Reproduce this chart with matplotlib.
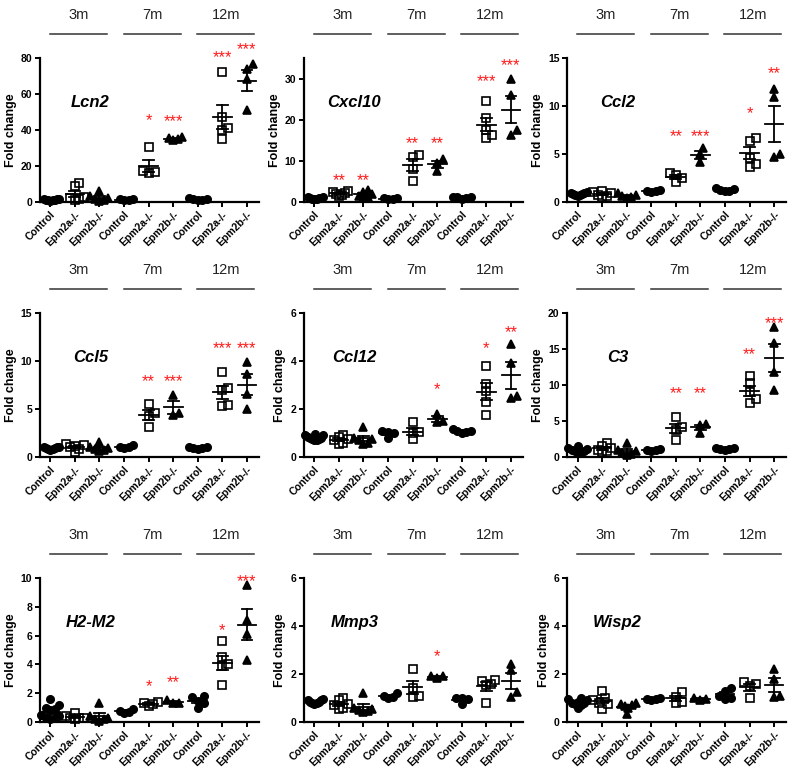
import numpy as np
import matplotlib
matplotlib.use("Agg")
import matplotlib.pyplot as plt

plt.rcParams['font.family'] = ['Liberation Sans', 'DejaVu Sans']

# DATA ########################################################################

genotypes = ["Control", "Epm2a-/-", "Epm2b-/-"]
ages = ["3m", "7m", "12m"]
tick_labels = genotypes * 3

# each gene: 9 groups (3m C, 3m a, 3m b, 7m C, 7m a, 7m b, 12m C, 12m a, 12m b)
lcn2 = [[1.2, 1.5, 0.8, 1.0, 1.8, 1.3, 0.9, 1.6],
        [10.5, 9.0, 2.5, 1.5, 1.0, 3.0],
        [6.0, 3.5, 1.0, 0.5, 1.5, 2.0],
        [1.2, 1.5, 1.0, 1.8],
        [30.5, 16.5, 16.0, 17.0],
        [35.5, 34.5, 36.0, 35.0],
        [1.2, 2.5, 1.0, 1.8, 1.5],
        [72.5, 41.0, 40.0, 35.0, 47.5],
        [76.5, 74.0, 68.5, 51.0]]
cxcl10 = [[0.8, 1.0, 1.2, 0.9, 0.7, 1.1, 0.8, 1.0],
          [2.0, 2.5, 1.8, 2.2, 2.6, 1.5],
          [3.0, 2.0, 1.2, 1.0, 1.5, 2.5],
          [0.8, 1.0, 0.7, 0.9],
          [11.5, 10.9, 8.0, 5.2],
          [10.4, 9.5, 7.5],
          [1.0, 1.3, 0.8, 1.1, 1.2],
          [24.5, 20.5, 17.5, 16.2, 15.5],
          [30.0, 26.0, 17.5, 16.3]]
ccl2 = [[0.7, 0.9, 0.8, 1.0, 0.6, 0.8, 0.9, 0.7],
        [1.2, 0.6, 0.9, 0.7, 1.0, 0.5],
        [0.9, 0.5, 0.6, 0.4, 0.7],
        [1.1, 1.3, 1.0, 1.2],
        [3.0, 2.8, 2.5, 2.1],
        [5.6, 5.0, 4.2],
        [1.3, 1.5, 1.1, 1.2, 1.4],
        [6.7, 6.4, 4.6, 4.0, 3.7],
        [11.8, 10.9, 5.0, 4.7]]
ccl5 = [[0.8, 1.0, 0.9, 0.7, 1.0, 0.9, 0.8, 1.0],
        [1.4, 1.2, 0.5, 0.8, 1.0, 1.3],
        [1.6, 0.8, 0.6, 0.9, 0.7, 1.0],
        [1.1, 1.3, 0.9, 1.0],
        [5.5, 4.6, 4.3, 3.1],
        [6.5, 4.6, 4.4],
        [0.9, 1.0, 0.8, 0.9, 1.0],
        [8.9, 7.2, 7.0, 5.4, 5.3],
        [9.9, 8.7, 6.6, 5.0]]
ccl12 = [[0.95, 0.9, 0.8, 0.75, 0.7, 0.85, 0.8, 0.7, 0.9, 0.75],
         [0.9, 0.85, 0.6, 0.7, 0.75, 0.55],
         [1.25, 0.8, 0.6, 0.55, 0.7, 0.75],
         [1.1, 1.0, 0.8, 1.05],
         [1.45, 1.05, 0.75, 1.0],
         [1.8, 1.5, 1.45],
         [1.1, 1.15, 1.0, 1.05, 1.1],
         [3.8, 3.05, 2.75, 2.3, 1.75],
         [4.7, 3.9, 2.55, 2.45]]
c3 = [[1.5, 1.2, 0.8, 1.0, 0.7, 0.9, 1.1, 0.6],
      [1.9, 1.6, 1.0, 0.8, 1.2, 0.7],
      [1.9, 1.0, 0.4, 0.3, 0.6, 0.8],
      [1.0, 1.1, 0.9, 1.0],
      [5.6, 4.2, 3.8, 2.4],
      [4.6, 4.4, 3.4],
      [1.1, 1.2, 1.0, 1.1, 1.2],
      [11.2, 10.3, 9.0, 8.0, 7.5],
      [18.0, 15.8, 11.8, 9.3]]
h2m2 = [[1.6, 1.2, 1.0, 0.8, 0.4, 0.3, 0.3, 0.9, 0.5, 0.2],
        [0.65, 0.3, 0.2, 0.3, 0.4, 0.25],
        [1.3, 0.4, 0.2, 0.1, 0.3, 0.2],
        [0.9, 0.7, 0.6, 0.75],
        [1.4, 1.3, 1.1, 1.25],
        [1.5, 1.35, 1.3],
        [1.8, 1.75, 1.45, 1.0, 1.35],
        [5.6, 4.5, 4.05, 3.9, 2.55],
        [9.5, 7.1, 6.1, 4.3]]
mmp3 = [[0.95, 0.9, 0.85, 0.8, 0.75, 0.8, 0.85, 0.9],
        [1.0, 0.9, 0.55, 0.7, 0.6, 0.75],
        [1.2, 0.6, 0.4, 0.5, 0.45, 0.55],
        [1.05, 1.2, 1.0, 1.1],
        [2.2, 1.4, 1.1, 1.05],
        [1.9, 1.85, 1.9],
        [1.0, 1.0, 0.95, 0.75],
        [1.75, 1.7, 1.6, 1.55, 0.8],
        [2.4, 2.15, 1.25, 1.05]]
wisp2 = [[1.0, 0.95, 0.9, 0.8, 0.75, 0.7, 0.6, 0.8, 0.85],
         [1.3, 1.0, 0.9, 0.75, 0.55, 0.8],
         [0.8, 0.7, 0.65, 0.6, 0.35, 0.75],
         [0.95, 1.0, 0.9, 0.95],
         [1.25, 1.05, 0.85, 0.8],
         [1.0, 0.95, 0.9],
         [1.4, 1.3, 1.1, 0.95, 1.0],
         [1.65, 1.6, 1.5, 1.0],
         [2.2, 1.8, 1.1, 1.05]]

gene_names = ["Lcn2", "Cxcl10", "Ccl2", "Ccl5", "Ccl12", "C3", "H2-M2", "Mmp3", "Wisp2"]
gene_data = [lcn2, cxcl10, ccl2, ccl5, ccl12, c3, h2m2, mmp3, wisp2]
y_max = [80, 35, 15, 15, 6, 20, 10, 6, 6]
y_step = [20, 10, 5, 5, 2, 5, 2, 2, 2]

# significance: group index -> (stars, level in fold change)
significance = [
    {4: ("*", 48), 5: ("***", 47), 7: ("***", 83), 8: ("***", 87)},
    {1: ("**", 6.2), 2: ("**", 6.2), 4: ("**", 15.2), 5: ("**", 15.2), 7: ("***", 30.4), 8: ("***", 34.3)},
    {4: ("**", 7.3), 5: ("***", 7.3), 7: ("*", 9.65), 8: ("**", 13.8)},
    {4: ("**", 8.3), 5: ("***", 8.3), 7: ("***", 11.8), 8: ("***", 11.8)},
    {5: ("*", 3.0), 7: ("*", 4.7), 8: ("**", 5.37)},
    {4: ("**", 9.5), 5: ("**", 9.5), 7: ("**", 14.9), 8: ("***", 19.1)},
    {4: ("*", 2.8), 5: ("**", 3.04), 7: ("*", 6.66), 8: ("***", 10.07)},
    {5: ("*", 2.9)},
    {},
]

# STYLE #######################################################################

markers = ["o", "s", "^"]
faces = ["black", "none", "black"]

col_left = [0.05, 0.38, 0.709]
row_bottom = [0.741, 0.414, 0.0744]
ax_w, ax_h = 0.274, 0.1846


def swarm_offsets(values, ytop, d=6.0, x_px=24.5, h_px=144.0, max_px=9.0):
    """simple beeswarm: spread points sideways so they do not stack"""
    ys = np.asarray(values, dtype=float) * h_px / ytop
    offs = np.zeros(len(ys))
    placed = []
    for i in np.argsort(ys):
        for k in range(60):
            off = ((k + 1) // 2) * (d * 0.5) * (1 if k % 2 else -1)
            if all((off - px) ** 2 + (ys[i] - py) ** 2 >= d * d for px, py in placed):
                break
        placed.append((off, ys[i]))
        offs[i] = off
    widest = np.abs(offs).max()
    if widest > max_px:
        offs = offs * max_px / widest
    return offs / x_px


def draw_panel(ax, name, groups, ytop, step, sig):
    for g, vals in enumerate(groups):
        vals = np.asarray(vals)
        kind = g % 3
        xs = g + swarm_offsets(vals, ytop)
        ax.plot(xs, vals, linestyle="none", marker=markers[kind],
                markersize=5.3 if kind != 2 else 5.8,
                markerfacecolor=faces[kind], markeredgecolor="black",
                markeredgewidth=1.2, clip_on=False, zorder=3)
        m = vals.mean()
        sem = vals.std(ddof=1) / np.sqrt(len(vals))
        ax.plot([g - 0.38, g + 0.38], [m, m], color="black", lw=1.3, zorder=4)
        ax.plot([g, g], [m - sem, m + sem], color="black", lw=1.3, zorder=4)
        for yy in (m - sem, m + sem):
            ax.plot([g - 0.22, g + 0.22], [yy, yy], color="black", lw=1.3, zorder=4)
        if g in sig:
            label, level = sig[g]
            ax.annotate(label, (g, level), xytext=(0, -6.5), textcoords="offset points",
                        ha="center", va="baseline", color="#ff1a1a", fontsize=12,
                        annotation_clip=False)

    ax.set_xlim(-0.42, 8.5)
    ax.set_ylim(0, ytop)
    ax.set_yticks(np.arange(0, ytop + 0.01, step))
    ax.set_xticks(range(9))
    ax.set_xticklabels(tick_labels, rotation=45, ha="right", rotation_mode="anchor",
                       fontsize=7.5, fontweight="bold")
    for t in ax.get_yticklabels():
        t.set_fontweight("bold")
        t.set_fontsize(7.5)
    ax.set_ylabel("Fold change", fontsize=9, fontweight="bold", labelpad=3)
    for s in ("top", "right"):
        ax.spines[s].set_visible(False)
    for s in ("left", "bottom"):
        ax.spines[s].set_linewidth(1.6)
    ax.tick_params(axis="both", direction="out", length=3.5, width=1.4, pad=2)

    ax.text(0.23, 0.69, name, transform=ax.transAxes, ha="center", va="center",
            fontsize=12, fontweight="bold", fontstyle="italic")

    # age brackets above the panel
    trans = ax.get_xaxis_transform()
    for a, age in enumerate(ages):
        x0, x1 = 3 * a - 0.02, 3 * a + 2.3
        ax.plot([x0, x1], [1.17, 1.17], color="#333333", lw=1.1,
                transform=trans, clip_on=False)
        ax.text((x0 + x1) / 2, 1.30, age, transform=trans, ha="center", va="center",
                fontsize=10.5, color="#222222")


# FIGURE ######################################################################

fig = plt.figure(figsize=(8, 7.8), dpi=100)

for i, name in enumerate(gene_names):
    r, c = divmod(i, 3)
    ax = fig.add_axes([col_left[c], row_bottom[r], ax_w, ax_h])
    draw_panel(ax, name, gene_data[i], y_max[i], y_step[i], significance[i])

fig.savefig("out.png", dpi=100)
